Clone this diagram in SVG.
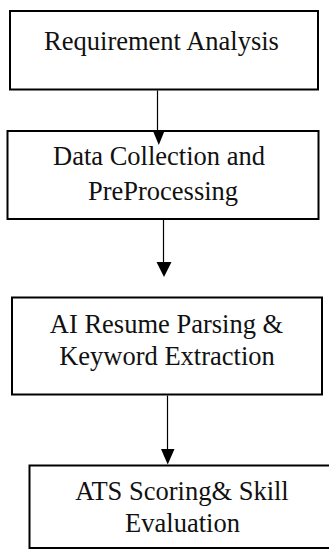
<svg xmlns="http://www.w3.org/2000/svg" width="329" height="552" viewBox="0 0 329 552">
  <style>
    .box { fill: #ffffff; stroke: #000000; stroke-width: 2; }
    .label { font-family: "Liberation Serif", "Times New Roman", serif; font-size: 26.5px; fill: #111111; text-anchor: middle; }
    .wire { stroke: #000000; stroke-width: 1.2; fill: none; }
    .head { fill: #000000; stroke: none; }
  </style>
  <rect width="329" height="552" fill="#ffffff"/>

  <g id="requirement-analysis">
    <rect class="box" x="10" y="11" width="308" height="78.5"/>
    <text class="label" x="161.5" y="50">Requirement Analysis</text>
  </g>

  <g id="data-collection">
    <rect class="box" x="7.5" y="131" width="311" height="88"/>
    <text class="label" x="159" y="165">Data Collection and</text>
    <text class="label" x="163" y="200">PreProcessing</text>
  </g>

  <g id="resume-parsing">
    <rect class="box" x="12" y="297.5" width="310" height="97"/>
    <text class="label" x="166.5" y="332.5">AI Resume Parsing &amp;</text>
    <text class="label" x="167" y="365">Keyword Extraction</text>
  </g>

  <g id="ats-scoring">
    <rect class="box" x="29.5" y="465.5" width="310" height="82.5"/>
    <text class="label" x="182" y="500">ATS Scoring&amp; Skill</text>
    <text class="label" x="182.5" y="531.5">Evaluation</text>
  </g>

  <g id="connectors">
    <line class="wire" x1="157.5" y1="90.5" x2="157.5" y2="132"/>
    <polygon class="head" points="153,131 164.5,131 158.8,145"/>
    <line class="wire" x1="163.5" y1="220" x2="163.5" y2="263"/>
    <polygon class="head" points="156.5,262 171.5,262 164,277"/>
    <line class="wire" x1="167.5" y1="395.5" x2="167.5" y2="450"/>
    <polygon class="head" points="161,449 174.5,449 167.7,464.5"/>
  </g>
</svg>
